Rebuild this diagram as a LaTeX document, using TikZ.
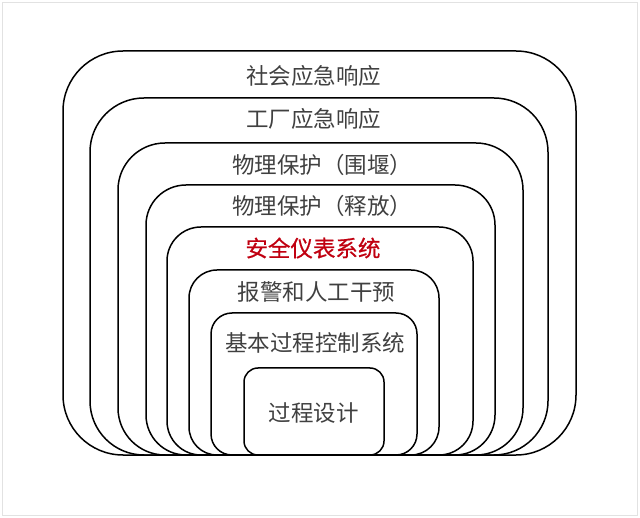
\documentclass[tikz,border=0pt]{standalone}
\usepackage{fontspec}
\newfontfamily\cjk{Noto Sans CJK SC}
\newfontfamily\cjkbold[FakeBold=0.6]{Noto Sans CJK SC}
\definecolor{txtgray}{HTML}{404040}
\definecolor{sisred}{HTML}{C00010}
\definecolor{framegray}{HTML}{E2E2E2}
\begin{document}
\begin{tikzpicture}[x=1pt,y=-1pt,
  layer/.style={draw=black, line width=1.5pt, rectangle, inner sep=0pt},
  lbl/.style={font=\cjk\fontsize{22.5}{24}\selectfont, text=txtgray, inner sep=0pt}]
\useasboundingbox (0,0) rectangle (640,518);
\draw[framegray, line width=1pt] (2.5,2.5) rectangle (637.5,515.5);
\node[layer, rounded corners=60pt, minimum width=513pt, minimum height=404pt] (r1) at (319.5,253) {};
\node[layer, rounded corners=54pt, minimum width=458pt, minimum height=357pt] (r2) at (319,276.5) {};
\node[layer, rounded corners=47pt, minimum width=405pt, minimum height=312pt] (r3) at (320.5,299) {};
\node[layer, rounded corners=40pt, minimum width=349pt, minimum height=270pt] (r4) at (320.5,320) {};
\node[layer, rounded corners=34pt, minimum width=306pt, minimum height=228pt] (r5) at (320,341) {};
\node[layer, rounded corners=28pt, minimum width=250pt, minimum height=185pt] (r6) at (314,362.5) {};
\node[layer, rounded corners=21pt, minimum width=206pt, minimum height=142pt] (r7) at (314,384) {};
\node[layer, rounded corners=14pt, minimum width=140pt, minimum height=87pt] (r8) at (314,411.5) {};
\node[lbl] (t1) at (313.5,76) {社会应急响应};
\node[lbl] (t2) at (313.5,119) {工厂应急响应};
\node[lbl] (t3) at (322,165) {物理保护（围堰）};
\node[lbl] (t4) at (322,206) {物理保护（释放）};
\node[lbl, font=\cjkbold\fontsize{22.5}{24}\selectfont, text=sisred] (t5) at (313,248) {安全仪表系统};
\node[lbl] (t6) at (316.5,292) {报警和人工干预};
\node[lbl] (t7) at (315,343) {基本过程控制系统};
\node[lbl] (t8) at (313.5,413) {过程设计};
\end{tikzpicture}
\end{document}
